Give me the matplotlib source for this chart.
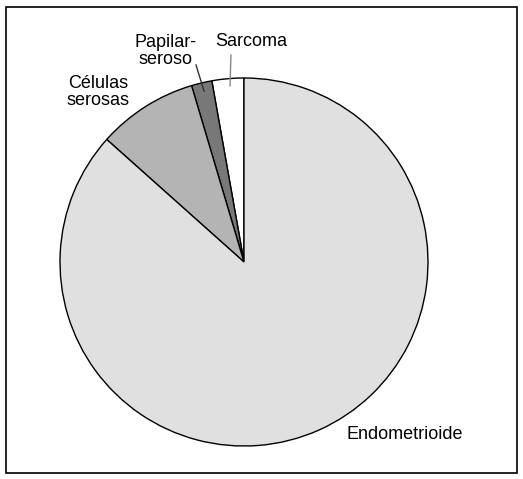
import matplotlib.pyplot as plt
from matplotlib.patches import Rectangle

## dados (fração de casos por tipo histológico)
tipos = ['Sarcoma', 'Papilar-\nseroso', 'Células\nserosas', 'Endometrioide']
valores = [2.8, 1.8, 8.8, 86.6]
cores = ['#ffffff', '#787878', '#b4b4b4', '#e0e0e0']

plt.rcParams['font.family'] = ['Liberation Sans', 'DejaVu Sans']

fig = plt.figure(figsize=(5.23, 4.79), dpi=100)
W, H = 523, 479

# moldura
fig.patches.append(Rectangle((6 / W, 1 - 473 / H), 511 / W, 466 / H,
                             transform=fig.transFigure, fill=False,
                             edgecolor='black', linewidth=1.2))

cx, cy, r = 244, 262, 184
ax = fig.add_axes([(cx - r) / W, (H - cy - r) / H, 2 * r / W, 2 * r / H])

ax.pie(valores, colors=cores, startangle=90, counterclock=True, radius=1,
       wedgeprops=dict(edgecolor='black', linewidth=1.0))
ax.set_xlim(-1, 1)
ax.set_ylim(-1, 1)
ax.set_aspect('equal')
ax.axis('off')

fs = 13
ax.text(0.038, 1.196, 'Sarcoma', ha='center', va='center', fontsize=fs, clip_on=False)
ax.plot([-0.071, -0.076], [1.125, 0.957], color='#888888', lw=1, clip_on=False)

ax.text(-0.424, 1.147, tipos[1], ha='center', va='center', fontsize=fs,
        linespacing=1.0, clip_on=False)
ax.plot([-0.261, -0.217], [1.071, 0.929], color='#333333', lw=1, clip_on=False)

ax.text(-0.793, 0.924, tipos[2], ha='center', va='center', fontsize=fs,
        linespacing=1.05, clip_on=False)

ax.text(0.875, -0.94, tipos[3], ha='center', va='center', fontsize=fs, clip_on=False)

plt.savefig('out.png', dpi=100)
